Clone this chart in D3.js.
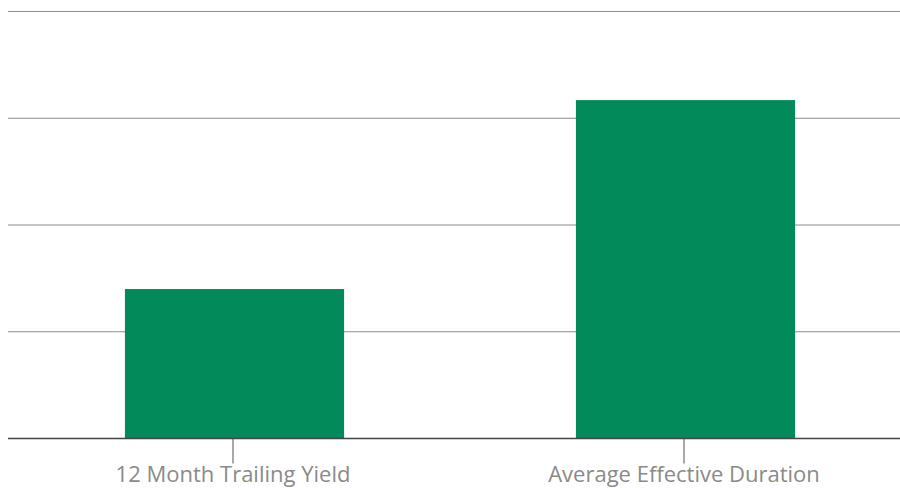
<!DOCTYPE html>
<html>
<head>
<meta charset="utf-8">
<script src="https://cdn.jsdelivr.net/npm/d3@7"></script>
<style>
  html, body { margin: 0; padding: 0; background: #fff; }
  svg { display: block; }
</style>
</head>
<body>
<script>
'use strict';

// chart data
const categories = ["12 Month Trailing Yield", "Average Effective Duration"];
const values = [1.40, 3.17];
const yTicks = [0, 1, 2, 3, 4];

const width = 900, height = 488;

const svg = d3.select('body')
  .append('svg')
  .attr('width', width)
  .attr('height', height);

// x scale - band per category
let xScale = d3.scaleBand()
  .domain(categories)
  .range([9, 911])
  .paddingInner(0.514)
  .paddingOuter(0.257);

// y scale - no visible labels, only gridlines
let yScale = d3.scaleLinear()
  .domain([0, 4])
  .range([438.5, 11.5]);

// gridlines
svg.append('g')
  .selectAll('line')
  .data(yTicks.filter(d => d > 0))
  .enter()
  .append('line')
    .attr('x1', 8)
    .attr('x2', width)
    .attr('y1', d => yScale(d))
    .attr('y2', d => yScale(d))
    .attr('stroke', '#8c8c8c')
    .attr('stroke-width', 1);

// bars
svg.selectAll('.bar')
  .data(values)
  .enter()
  .append('rect')
    .attr('class', 'bar')
    .attr('x', (d, i) => xScale(categories[i]))
    .attr('y', d => yScale(d))
    .attr('width', xScale.bandwidth())
    .attr('height', d => yScale(0) - yScale(d))
    .attr('fill', '#028a5b');

// x axis with category labels
let xAxis = d3.axisBottom(xScale).tickSize(25).tickPadding(3).tickSizeOuter(0);
let gx = svg.append('g')
  .attr('transform', 'translate(-1.5,' + yScale(0) + ')')
  .call(xAxis);

gx.select('.domain').remove();
gx.selectAll('.tick line')
  .attr('stroke', '#a8a8a8')
  .attr('stroke-width', 2);
gx.selectAll('.tick text')
  .attr('fill', '#8a8a8a')
  .style('font-family', '"Open Sans", sans-serif')
  .style('font-size', '22px');

// baseline
svg.append('line')
  .attr('x1', 8)
  .attr('x2', width)
  .attr('y1', yScale(0))
  .attr('y2', yScale(0))
  .attr('stroke', '#444')
  .attr('stroke-width', 1.6);
</script>
</body>
</html>
